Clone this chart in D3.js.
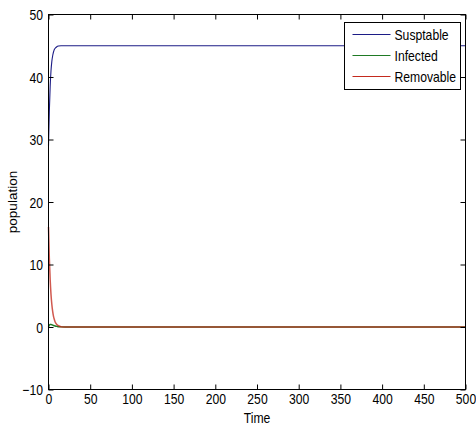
<!DOCTYPE html>
<html>
<head>
<meta charset="utf-8">
<script src="https://cdn.jsdelivr.net/npm/d3@7"></script>
<style>
  html, body { margin: 0; padding: 0; background: #fff; }
  svg { display: block; }
</style>
</head>
<body>
<svg id="chart" width="476" height="426"></svg>
<script>
// Sampled solution of the S-I-R model over time
const time        = [0, 1, 2, 3, 4, 5, 6, 7, 8, 10, 12, 15, 20, 30, 50, 100, 200, 300, 400, 500];
const susceptible = [29, 34.5, 38.5, 41.0, 42.5, 43.4, 44.0, 44.4, 44.6, 44.85, 44.95, 45, 45, 45, 45, 45, 45, 45, 45, 45];
const infected    = [0, 0.3, 0.4, 0.4, 0.35, 0.3, 0.25, 0.2, 0.15, 0.1, 0.05, 0.02, 0, 0, 0, 0, 0, 0, 0, 0];
const removable   = [16, 11, 7.6, 5.2, 3.6, 2.5, 1.7, 1.2, 0.8, 0.4, 0.2, 0.05, 0, 0, 0, 0, 0, 0, 0, 0];

const seriesNames   = ["Susptable", "Infected", "Removable"];
const seriesColors  = ["#1c1c86", "#1f7a24", "#c42a1e"];
const seriesOpacity = [1, 1, 0.78];
const xTicks = [0, 50, 100, 150, 200, 250, 300, 350, 400, 450, 500];
const yTicks = [-10, 0, 10, 20, 30, 40, 50];

const FONT = "'Liberation Sans', Arial, sans-serif";
const FS = 14.5;
const SQUEEZE = 0.84;

const svg = d3.select("#chart");
const L = 48.5, R = 465.5, T = 14.5, B = 389.5;

const x = d3.scaleLinear().domain([0, 500]).range([L, R]);
const y = d3.scaleLinear().domain([-10, 50]).range([B, T]);

// Plot area
svg.append("rect")
  .attr("x", L).attr("y", T).attr("width", R - L).attr("height", B - T)
  .attr("fill", "#fff");

// Curves (Removable drawn over Infected)
const line = d3.line().x(d => x(d[0])).y(d => y(d[1])).curve(d3.curveMonotoneX);
const series = [susceptible, infected, removable];
[0, 1, 2].forEach(i => {
  svg.append("path")
    .datum(time.map((t, k) => [t, series[i][k]]))
    .attr("fill", "none")
    .attr("stroke", seriesColors[i])
    .attr("stroke-opacity", seriesOpacity[i])
    .attr("stroke-width", i === 0 ? 1.1 : 1.5)
    .attr("d", line);
});

// Axes with inward ticks on all four sides
function styleAxis(g) {
  g.attr("font-family", FONT).attr("font-size", FS);
  g.select(".domain").remove();
  g.selectAll(".tick line").attr("stroke", "#000");
}

const xAxis = svg.append("g")
  .attr("transform", `translate(0,${B})`)
  .call(d3.axisBottom(x).tickValues(xTicks).tickSizeInner(-5).tickSizeOuter(0).tickPadding(4).tickFormat(d3.format("d")));
styleAxis(xAxis);
xAxis.selectAll(".tick text").attr("fill", "#000").attr("transform", `scale(${SQUEEZE},1)`);

const yAxis = svg.append("g")
  .attr("transform", `translate(${L},0)`)
  .call(d3.axisLeft(y).tickValues(yTicks).tickSizeInner(-5).tickSizeOuter(0).tickFormat(d3.format("d")));
styleAxis(yAxis);
yAxis.selectAll(".tick text")
  .attr("fill", "#000")
  .attr("x", -5.5 / SQUEEZE)
  .attr("dy", "0.36em")
  .attr("transform", `scale(${SQUEEZE},1)`);

const xTop = svg.append("g")
  .attr("transform", `translate(0,${T})`)
  .call(d3.axisTop(x).tickValues(xTicks).tickSizeInner(-5).tickSizeOuter(0).tickFormat(""));
styleAxis(xTop);

const yRight = svg.append("g")
  .attr("transform", `translate(${R},0)`)
  .call(d3.axisRight(y).tickValues(yTicks).tickSizeInner(-5).tickSizeOuter(0).tickFormat(""));
styleAxis(yRight);

// Frame
svg.append("rect")
  .attr("x", L).attr("y", T).attr("width", R - L).attr("height", B - T)
  .attr("fill", "none").attr("stroke", "#000").attr("stroke-width", 1);

// Axis titles
svg.append("text")
  .attr("transform", `translate(${(L + R) / 2},423) scale(${SQUEEZE},1)`)
  .attr("text-anchor", "middle")
  .attr("font-family", FONT).attr("font-size", FS)
  .text("Time");

svg.append("text")
  .attr("transform", `translate(17,${(T + B) / 2}) rotate(-90)`)
  .attr("text-anchor", "middle")
  .attr("font-family", FONT).attr("font-size", 13.5)
  .text("population");

// Legend
const lg = svg.append("g").attr("transform", "translate(344.5,22.5)");
lg.append("rect")
  .attr("width", 116).attr("height", 67)
  .attr("fill", "#fff").attr("stroke", "#000").attr("stroke-width", 1);
seriesNames.forEach((name, i) => {
  const yy = 12 + i * 21;
  lg.append("line")
    .attr("x1", 8).attr("x2", 46).attr("y1", yy).attr("y2", yy)
    .attr("stroke", seriesColors[i]).attr("stroke-width", 1.1);
  lg.append("text")
    .attr("transform", `translate(50,${yy + 5}) scale(${SQUEEZE},1)`)
    .attr("font-family", FONT).attr("font-size", FS)
    .text(name);
});
</script>
</body>
</html>
